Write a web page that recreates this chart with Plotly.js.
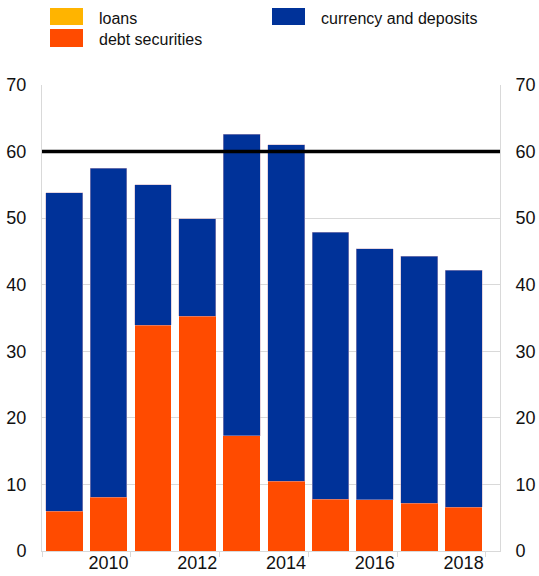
<!DOCTYPE html>
<html>
<head>
<meta charset="utf-8">
<script src="https://cdn.plot.ly/plotly-3.0.1.min.js"></script>
<style>html,body{margin:0;padding:0;background:#fff;}#chart{width:539px;height:576px;}</style>
</head>
<body>
<div id="chart"></div>
<script>
const years = [2009, 2010, 2011, 2012, 2013, 2014, 2015, 2016, 2017, 2018];
const loans = [0, 0, 0, 0, 0, 0, 0, 0, 0, 0];
const debtSecurities = [6.0, 8.1, 33.9, 35.3, 17.3, 10.5, 7.8, 7.7, 7.2, 6.6];
const currencyDeposits = [47.8, 49.4, 21.1, 14.6, 45.3, 50.5, 40.1, 37.7, 37.1, 35.6];
const thresholdValue = 60;
const xTickVals = [2010, 2012, 2014, 2016, 2018];
const xTickText = ['2010', '2012', '2014', '2016', '2018'];
const xBoundaryTicks = [2008.5, 2010.5, 2012.5, 2014.5, 2016.5, 2018.5];
const yTicks = [0, 10, 20, 30, 40, 50, 60, 70];

const colLoans = '#FFB400', colDebt = '#FF4B00', colCur = '#003299';
const outline = {color: 'rgba(200,170,190,0.8)', width: 0.6};

const traces = [
  {type: 'bar', x: years, y: loans, name: 'loans', marker: {color: colLoans}, hoverinfo: 'skip'},
  {type: 'bar', x: years, y: debtSecurities, name: 'debt securities', marker: {color: colDebt}},
  {type: 'bar', x: years, y: currencyDeposits, name: 'currency and deposits', marker: {color: colCur, line: outline}},
  {type: 'scatter', x: [2008.5], y: [0], xaxis: 'x2', yaxis: 'y2', mode: 'none', showlegend: false, hoverinfo: 'skip'}
];

const font = {family: 'Liberation Sans, Arial, sans-serif', size: 16, color: '#111'};
const tickFont = {family: 'Liberation Sans, Arial, sans-serif', size: 18, color: '#111'};
const xr = [2008.5, 2018.82];

const px2x = px => (px - 42) / 458;
const px2y = py => (551 - py) / 466;

const layout = {
  width: 539, height: 576,
  margin: {l: 42, r: 39, t: 85, b: 25, pad: 0},
  paper_bgcolor: '#fff', plot_bgcolor: '#fff',
  barmode: 'stack', bargap: 0.17,
  showlegend: false,
  font: font,
  xaxis: {
    range: xr, tickvals: xTickVals, ticktext: xTickText, ticks: '', ticklen: 0,
    showgrid: false, zeroline: false, showline: true, linecolor: '#d9d9d9', linewidth: 1,
    tickfont: tickFont, fixedrange: true, ticklabelstandoff: -5
  },
  xaxis2: {
    range: xr, overlaying: 'x', side: 'bottom', anchor: 'y',
    tickvals: xBoundaryTicks, showticklabels: false, ticks: 'outside', ticklen: 5, tickcolor: '#d9d9d9',
    showgrid: false, zeroline: false, showline: false
  },
  yaxis: {
    range: [0, 70], tickvals: yTicks, ticks: '', showgrid: true, gridcolor: '#d9d9d9', gridwidth: 1,
    zeroline: false, showline: true, linecolor: '#d9d9d9', tickfont: tickFont, ticklabelstandoff: 11
  },
  yaxis2: {
    range: [0, 70], tickvals: yTicks, overlaying: 'y', side: 'right', anchor: 'x',
    showgrid: false, zeroline: false, showline: true, linecolor: '#d9d9d9', tickfont: tickFont, ticklabelstandoff: 11
  },
  shapes: [
    {type: 'line', xref: 'paper', x0: 0, x1: 1, yref: 'y', y0: thresholdValue, y1: thresholdValue,
     line: {color: '#000', width: 3.5}},
    {type: 'rect', xref: 'paper', yref: 'paper', x0: px2x(50), x1: px2x(83), y0: px2y(25), y1: px2y(8),
     fillcolor: colLoans, line: {width: 0}},
    {type: 'rect', xref: 'paper', yref: 'paper', x0: px2x(50), x1: px2x(83), y0: px2y(47), y1: px2y(29),
     fillcolor: colDebt, line: {width: 0}},
    {type: 'rect', xref: 'paper', yref: 'paper', x0: px2x(272), x1: px2x(305), y0: px2y(25), y1: px2y(8),
     fillcolor: colCur, line: {width: 0}}
  ],
  annotations: [
    {xref: 'paper', yref: 'paper', x: px2x(97), y: px2y(18), text: 'loans', showarrow: false, xanchor: 'left', yanchor: 'middle', font: font},
    {xref: 'paper', yref: 'paper', x: px2x(97), y: px2y(40), text: 'debt securities', showarrow: false, xanchor: 'left', yanchor: 'middle', font: font},
    {xref: 'paper', yref: 'paper', x: px2x(319), y: px2y(18), text: 'currency and deposits', showarrow: false, xanchor: 'left', yanchor: 'middle', font: font}
  ]
};

Plotly.newPlot('chart', traces, layout, {displayModeBar: false, staticPlot: true});
</script>
</body>
</html>
